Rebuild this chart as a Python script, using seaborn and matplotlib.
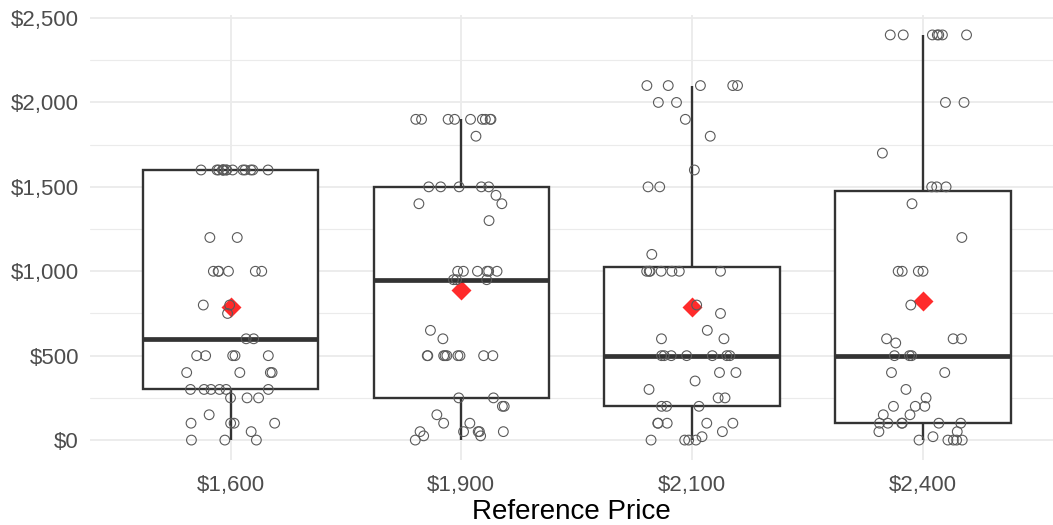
import numpy as np
import pandas as pd
import matplotlib
matplotlib.use("Agg")
import matplotlib.pyplot as plt
from matplotlib.ticker import FuncFormatter, MultipleLocator
import seaborn as sns

# values (value, how many points sit at it)
ref_prices = ["$1,600", "$1,900", "$2,100", "$2,400"]

vals_1600 = [0, 50, 100, 150, 250, 300, 400, 500, 600, 750, 800, 1000, 1200, 1600]
cnts_1600 = [3, 1, 4, 1, 3, 6, 4, 5, 2, 1, 2, 6, 2, 15]

vals_1900 = [0, 25, 50, 100, 150, 200, 250, 500, 600, 650, 950, 1000, 1300, 1400, 1450, 1500, 1800, 1900]
cnts_1900 = [1, 2, 5, 2, 1, 2, 2, 9, 1, 1, 3, 6, 1, 2, 1, 5, 1, 9]

vals_2100 = [0, 20, 50, 100, 200, 250, 300, 350, 400, 500, 600, 650, 750, 800, 1000, 1100, 1500, 1600, 1800, 1900, 2000, 2100]
cnts_2100 = [4, 1, 1, 5, 3, 2, 1, 1, 2, 7, 2, 1, 1, 1, 7, 1, 2, 1, 1, 1, 2, 5]

vals_2400 = [0, 20, 50, 100, 150, 200, 250, 300, 400, 500, 575, 600, 800, 1000, 1200, 1400, 1500, 1700, 2000, 2400]
cnts_2400 = [5, 1, 2, 6, 2, 3, 1, 1, 2, 3, 1, 3, 1, 4, 1, 1, 3, 1, 2, 7]

groups = [(vals_1600, cnts_1600), (vals_1900, cnts_1900),
          (vals_2100, cnts_2100), (vals_2400, cnts_2400)]

frames = []
for label, (v, c) in zip(ref_prices, groups):
    frames.append(pd.DataFrame({"ref": label, "wtp": np.repeat(v, c)}))
df = pd.concat(frames, ignore_index=True)

sns.set_theme(style="whitegrid")
plt.rcParams["font.family"] = ["Liberation Sans", "DejaVu Sans"]

fig, ax = plt.subplots(figsize=(10.53, 5.25), dpi=100)
fig.subplots_adjust(left=90 / 1053, right=1.0, top=1 - 15 / 525, bottom=1 - 460 / 525)

sns.boxplot(data=df, x="ref", y="wtp", order=ref_prices, ax=ax,
            width=0.76, color="white", linecolor="#333333", linewidth=1.7,
            showcaps=False, showfliers=False,
            medianprops=dict(linewidth=3.4, color="#333333"))

n_before = len(ax.collections)
np.random.seed(7)
sns.stripplot(data=df, x="ref", y="wtp", order=ref_prices, ax=ax,
              jitter=0.2, size=7, color="white", edgecolor="#5A5A5A", linewidth=0.8)
for coll in ax.collections[n_before:]:
    coll.set_facecolor("none")
    coll.set_edgecolor("#5A5A5A")

sns.pointplot(data=df, x="ref", y="wtp", order=ref_prices, ax=ax,
              estimator="mean", errorbar=None, linestyle="none",
              marker="D", markersize=8.5, color="#FF2B2B")

ax.set_xlim(-0.609, 3.564)
ax.set_ylim(-118, 2518)
ax.yaxis.set_major_locator(MultipleLocator(500))
ax.yaxis.set_minor_locator(MultipleLocator(250))
ax.yaxis.set_major_formatter(FuncFormatter(lambda v, p: f"${v:,.0f}"))

ax.grid(which="major", color="#EBEBEB", linewidth=1.3)
ax.grid(which="minor", axis="y", color="#EBEBEB", linewidth=0.8)
ax.set_axisbelow(True)
for s in ax.spines.values():
    s.set_visible(False)

ax.tick_params(axis="both", which="both", length=0, labelsize=16, labelcolor="#4D4D4D")
ax.tick_params(axis="y", pad=8)
ax.tick_params(axis="x", pad=11)
ax.set_ylabel("")
ax.set_xlabel("Reference Price", fontsize=20, color="black", labelpad=2)

fig.savefig("out.png", dpi=100)
